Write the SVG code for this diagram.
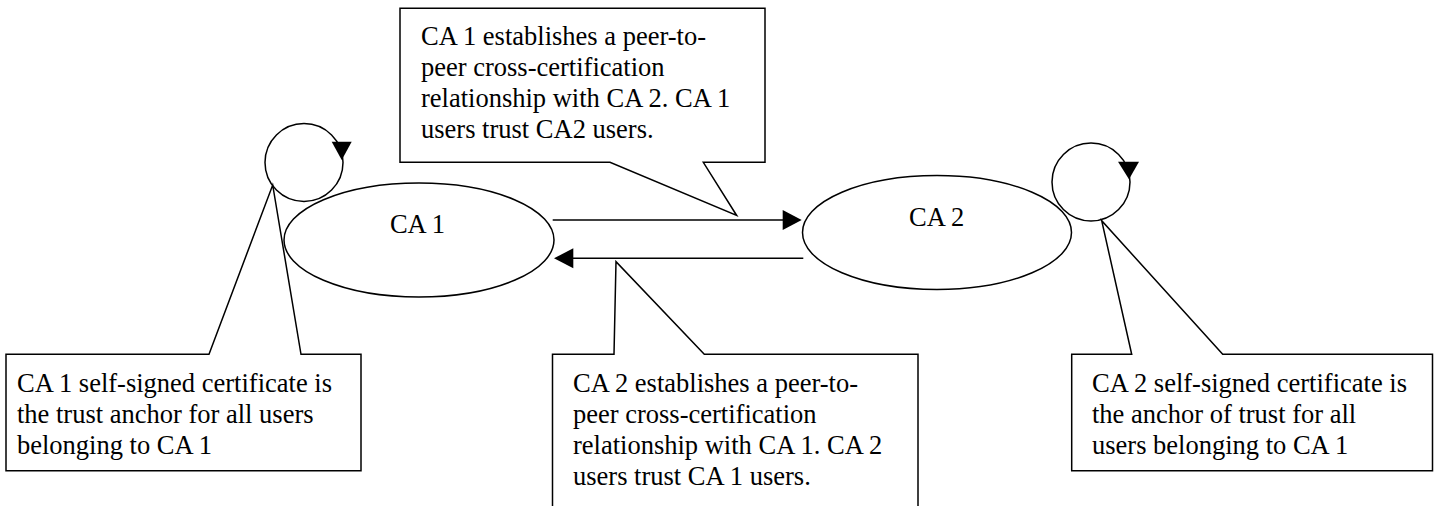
<svg xmlns="http://www.w3.org/2000/svg" width="1434" height="506" viewBox="0 0 1434 506">
<style>
.s{fill:none;stroke:#000;stroke-width:1.5;stroke-linejoin:miter}
.c{fill:#fff;stroke:#000;stroke-width:1.5;stroke-linejoin:miter}
.t{font-family:"Liberation Serif","Times New Roman",serif;font-size:26.5px;fill:#000}
.h{fill:#000;stroke:none}
</style>
<rect width="1434" height="506" fill="#fff"/>
<g id="callout-top">
<path class="c" d="M400,8.3 H765 V162.3 H703.3 L736.7,215.5 L610,162.3 H400 Z"/>
<text class="t" x="421" y="45">CA 1 establishes a peer-to-</text>
<text class="t" x="421" y="76">peer cross-certification</text>
<text class="t" x="421" y="107">relationship with CA 2. CA 1</text>
<text class="t" x="421" y="138">users trust CA2 users.</text>
</g>
<g id="callout-left">
<path class="c" d="M6,354.3 H209 L272.7,185 L301,354.3 H361 V470.7 H6 Z"/>
<text class="t" x="17" y="392">CA 1 self-signed certificate is</text>
<text class="t" x="17" y="423">the trust anchor for all users</text>
<text class="t" x="17" y="454">belonging to CA 1</text>
</g>
<g id="callout-bottom">
<path class="c" d="M552.5,512 V354.3 H614 L616,261.7 L704.3,354.3 H918 V512"/>
<text class="t" x="573" y="392">CA 2 establishes a peer-to-</text>
<text class="t" x="573" y="423">peer cross-certification</text>
<text class="t" x="573" y="454">relationship with CA 1. CA 2</text>
<text class="t" x="573" y="485">users trust CA 1 users.</text>
</g>
<g id="callout-right">
<path class="c" d="M1071.7,354.3 H1131.7 L1101.7,220.7 L1222.7,354.3 H1432.5 V470.7 H1071.7 Z"/>
<text class="t" x="1092" y="392">CA 2 self-signed certificate is</text>
<text class="t" x="1092" y="423">the anchor of trust for all</text>
<text class="t" x="1092" y="454">users belonging to CA 1</text>
</g>
<g id="ca1">
<ellipse class="s" cx="419" cy="240" rx="135" ry="57"/>
<text class="t" x="417.5" y="232.5" text-anchor="middle">CA 1</text>
</g>
<g id="ca2">
<ellipse class="s" cx="937" cy="232.5" rx="134.5" ry="57"/>
<text class="t" x="936.7" y="226" text-anchor="middle">CA 2</text>
</g>
<g id="self-loop-1">
<circle class="s" cx="304" cy="162.5" r="39"/>
<polygon class="h" points="331.7,141.7 351.7,141.7 341.7,160"/>
</g>
<g id="self-loop-2">
<circle class="s" cx="1091" cy="182" r="39"/>
<polygon class="h" points="1118,161.7 1139,161.7 1129,179.3"/>
</g>
<g id="connectors">
<line class="s" x1="552.7" y1="220" x2="784" y2="220"/>
<polygon class="h" points="801.7,220 782.7,210 782.7,230"/>
<line class="s" x1="803.3" y1="258.3" x2="572" y2="258.3"/>
<polygon class="h" points="554,258.3 573.3,248.3 573.3,268.3"/>
</g>
</svg>
